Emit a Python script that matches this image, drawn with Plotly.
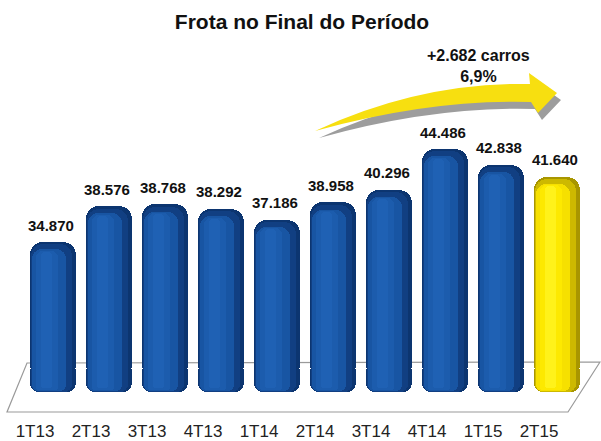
import plotly.graph_objects as go

# ---------------- data ----------------
categories = ["1T13", "2T13", "3T13", "4T13", "1T14", "2T14", "3T14", "4T14", "1T15", "2T15"]
values = [34870, 38576, 38768, 38292, 37186, 38958, 40296, 44486, 42838, 41640]
value_labels = ["34.870", "38.576", "38.768", "38.292", "37.186", "38.958", "40.296", "44.486", "42.838", "41.640"]
highlight = [False] * 9 + [True]
title_text = "Frota no Final do Período"
arrow_text = "+2.682 carros<br>6,9%"

# ---------------- geometry helpers ----------------
W, H = 601, 441
PLOT_BOTTOM = 412  # px from top
PX_PER_K = 9.67    # pixels per 1000 units


def px(x):
    return x / W


def py(y):
    return (PLOT_BOTTOM - y) / PLOT_BOTTOM


BASE = 19360      # bar base value (axis does not start at zero)
FOOT_TOP = 3000   # foot piece spans BASE .. BASE+FOOT_TOP (grows downward)
BODY_START = 1500 # body piece spans BASE+BODY_START .. value (overlaps the foot)

# layers: (blue colour, yellow colour, width, x offset, radius, top inset, bottom inset)
layers = [
    ("#0c3570", "#a89600", 0.82, 0.00, 13, 0, 0),
    ("#113f82", "#cdb900", 0.74, -0.03, 12, 250, 0),
    ("#1855a3", "#f6e000", 0.62, -0.07, 10, 750, 100),
    ("#1c5cad", "#fde900", 0.40, -0.11, 7, 900, 250),
    ("#1f61b4", "#fff21a", 0.20, -0.12, 4, 1000, 400),
]

x = list(range(len(categories)))
fig = go.Figure()

for bcol, ycol, w, dx, r, it, ib in layers:
    cols = [ycol if h else bcol for h in highlight]
    xs = [i + dx for i in x]
    # rounded foot (grows downward)
    fig.add_trace(go.Bar(
        x=xs, y=[-(FOOT_TOP - ib)] * len(x), base=[BASE + FOOT_TOP] * len(x),
        width=w, marker=dict(color=cols, line=dict(width=0), cornerradius=max(r - 4, 3)),
        hoverinfo="skip", showlegend=False))
    # main body with rounded top
    fig.add_trace(go.Bar(
        x=xs, y=[v - BASE - BODY_START - it for v in values],
        base=[BASE + BODY_START] * len(x),
        width=w, marker=dict(color=cols, line=dict(width=0), cornerradius=r),
        hoverinfo="skip", showlegend=False))

# data labels
for i, (v, lab) in enumerate(zip(values, value_labels)):
    fig.add_annotation(x=i - 0.04, y=v, text=lab, showarrow=False, yshift=17,
                       yanchor="middle", xanchor="center",
                       font=dict(family="Arial, Liberation Sans", size=15, color="#111111", weight="bold"))

# 3D floor
floor = [(27, 363), (600, 362), (568, 412), (7, 412)]
path = "M " + " L ".join(f"{px(a):.5f},{py(b):.5f}" for a, b in floor) + " Z"
fig.add_shape(type="path", path=path, xref="paper", yref="paper", layer="below",
              line=dict(color="#9a9a9a", width=1.2), fillcolor="rgba(255,255,255,0)")


def arrow_path(dx=0, dy=0):
    pts = [
        ("M", [(315, 131)]),
        ("Q", [(420, 82), (530, 84)]),
        ("L", [(529, 73)]),
        ("L", [(557, 93)]),
        ("L", [(538, 113)]),
        ("L", [(531, 102)]),
        ("Q", [(430, 99), (315, 131)]),
    ]
    s = ""
    for cmd, ps in pts:
        s += cmd + " " + " ".join(f"{px(a + dx):.5f},{py(b + dy):.5f}" for a, b in ps) + " "
    return s + "Z"


fig.add_shape(type="path", path=arrow_path(4, 7), xref="paper", yref="paper",
              line=dict(width=0), fillcolor="#9d9d9d", layer="above")
fig.add_shape(type="path", path=arrow_path(), xref="paper", yref="paper",
              line=dict(width=0), fillcolor="#f7df10", layer="above")

fig.add_annotation(x=px(478), y=py(66), xref="paper", yref="paper", text=arrow_text,
                   showarrow=False, xanchor="center", yanchor="middle",
                   font=dict(family="Arial, Liberation Sans", size=16, color="#111111", weight="bold"))

y0 = BASE - 20 / PX_PER_K * 1000
fig.update_layout(
    width=W, height=H,
    margin=dict(l=0, r=0, t=0, b=H - PLOT_BOTTOM, pad=0, autoexpand=False),
    paper_bgcolor="white", plot_bgcolor="white",
    barmode="overlay", bargap=0,
    title=dict(text=title_text, x=302 / W, y=1 - 22 / H, xanchor="center", yanchor="middle",
               font=dict(family="Arial, Liberation Sans", size=21, color="#111111", weight="bold")),
    xaxis=dict(range=[-53 / 56, (W - 53) / 56], tickvals=x, ticktext=categories,
               showgrid=False, zeroline=False, showline=False, ticks="",
               ticklabelshift=-18, ticklabelstandoff=7, automargin=False,
               tickfont=dict(family="Arial, Liberation Sans", size=17, color="#222222"),
               fixedrange=True),
    yaxis=dict(range=[y0, y0 + PLOT_BOTTOM / PX_PER_K * 1000],
               visible=False, fixedrange=True, automargin=False),
)

fig.write_html("out.html", config={"displayModeBar": False},
               post_script="document.body.style.margin='0px';document.body.style.padding='0px';")
